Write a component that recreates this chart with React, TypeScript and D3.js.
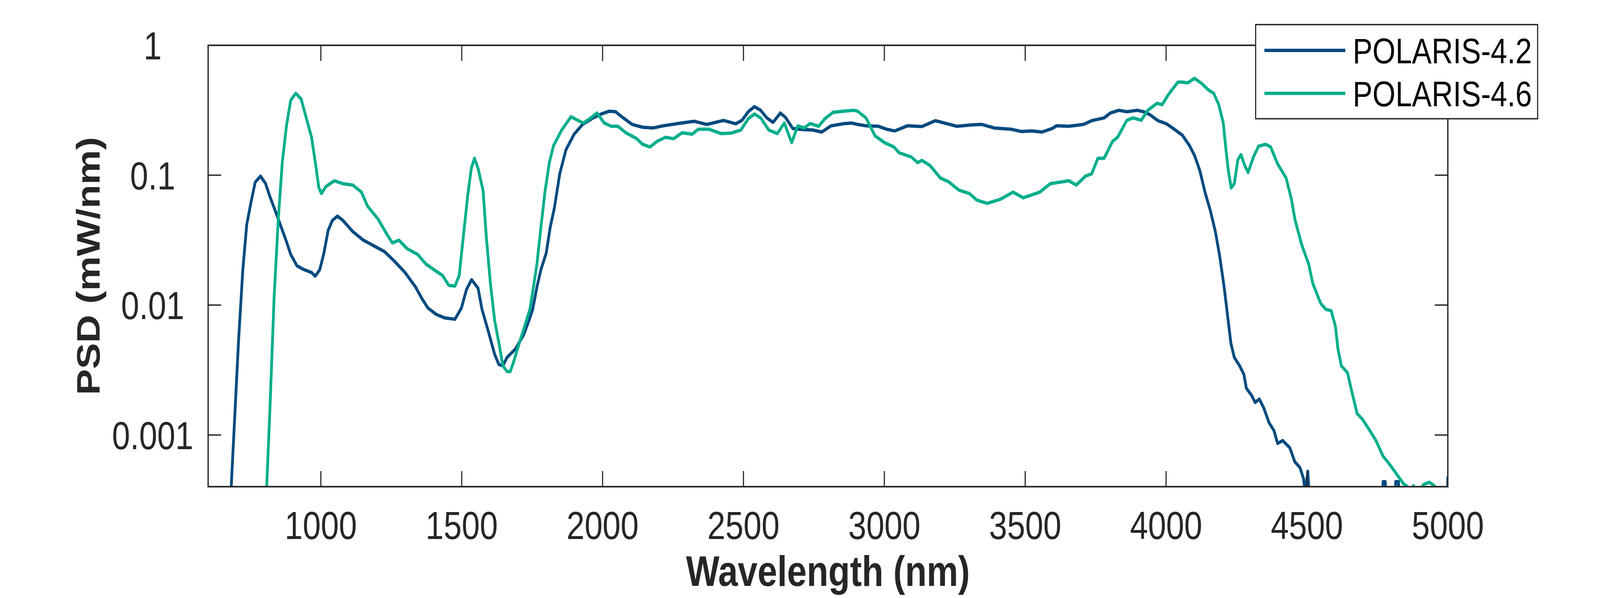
import React from 'react';
import * as d3 from 'd3';

// ---- data ----
const seriesNames = ['POLARIS-4.2', 'POLARIS-4.6'];
const seriesColors = ['#004a7f', '#00ae8b'];

const wavelength42 = [
  670, 682, 693, 708, 723, 737, 752, 767, 786, 804, 819, 849, 878, 893, 915, 937, 967, 980, 996,
  1011, 1026, 1041, 1059, 1078, 1114, 1151, 1188, 1225, 1262, 1299, 1336, 1358, 1380, 1410, 1439,
  1476, 1499, 1517, 1535, 1558, 1572, 1595, 1617, 1632, 1646, 1661, 1691, 1720, 1742, 1752, 1767,
  1781, 1800, 1814, 1829, 1848, 1870, 1899, 1929, 1966, 1995, 2024, 2046, 2068, 2105, 2142, 2179,
  2215, 2267, 2326, 2370, 2429, 2473, 2495, 2517, 2539, 2561, 2583, 2605, 2631, 2649, 2675, 2708,
  2745, 2778, 2811, 2855, 2885, 2905, 2935, 2979, 3008, 3037, 3082, 3133, 3181, 3214, 3258, 3310,
  3346, 3390, 3449, 3486, 3523, 3560, 3596, 3611, 3655, 3707, 3736, 3780, 3802, 3832, 3861, 3898,
  3920, 3942, 3971, 4001, 4023, 4058, 4083, 4101, 4120, 4138, 4157, 4175, 4190, 4206, 4218, 4230,
  4242, 4261, 4276, 4285, 4304, 4316, 4331, 4347, 4365, 4383, 4396, 4414, 4439, 4457, 4475, 4488,
  4494, 4503, 4509, 4520, 4765, 4770, 4778, 4784, 4810, 4815, 4825, 4831, 4996, 5000,
];
const psd42 = [
  0.0001, 0.000407, 0.0012, 0.00537, 0.0186, 0.0417, 0.0617, 0.0883, 0.0984, 0.0861, 0.0687, 0.046,
  0.0308, 0.0246, 0.0201, 0.0189, 0.0178, 0.0167, 0.0187,
  0.0252, 0.0377, 0.0449, 0.0484, 0.0449, 0.0367, 0.0316, 0.0286, 0.0259, 0.0217, 0.0178, 0.0138,
  0.0113, 0.0095, 0.00847, 0.00798,
  0.00778, 0.0095, 0.0132, 0.0157, 0.0135, 0.00927, 0.00621, 0.00417, 0.00349, 0.00341, 0.00396,
  0.0046, 0.00592, 0.00798, 0.0093, 0.0138,
  0.0187, 0.0252, 0.0396, 0.0562, 0.1026, 0.157, 0.207, 0.246, 0.276, 0.296, 0.311, 0.308, 0.282,
  0.246, 0.234, 0.231,
  0.24, 0.25, 0.26, 0.246, 0.264, 0.249, 0.265, 0.308, 0.337, 0.316, 0.276, 0.255, 0.301, 0.279,
  0.229, 0.225,
  0.223, 0.215, 0.24, 0.249, 0.252, 0.246, 0.24, 0.238, 0.226, 0.219, 0.24, 0.237, 0.263, 0.252,
  0.238, 0.244,
  0.246, 0.231, 0.226, 0.217, 0.219, 0.215, 0.229, 0.24, 0.238, 0.246, 0.263, 0.276, 0.301, 0.316,
  0.308, 0.316,
  0.308, 0.293, 0.263, 0.249, 0.231, 0.203, 0.169, 0.142, 0.108, 0.0741, 0.0535, 0.0367, 0.024,
  0.0138, 0.0084, 0.00509,
  0.00396, 0.00341, 0.00293, 0.00229, 0.00201, 0.00178, 0.00189, 0.00161, 0.00125, 0.00108,
  0.000861, 0.000906, 0.000798, 0.000621, 0.000562, 0.00046,
  0.000355, 0.000525, 0.000316, 0.0001, 0.0001, 0.000437, 0.000437, 0.0001, 0.0001, 0.000437,
  0.000437, 0.0001, 0.0001, 0.000468,
];

const wavelength46 = [
  800, 808, 819, 834, 849, 863, 878, 893, 911, 930, 945, 967, 982, 993, 1002, 1018, 1048, 1078,
  1114, 1144, 1166, 1203, 1232, 1254, 1277, 1306, 1343, 1373, 1402, 1432, 1454, 1476, 1491, 1506,
  1521, 1534, 1545, 1558, 1576, 1587, 1602, 1617, 1632, 1646, 1661, 1672, 1683, 1698, 1720, 1742,
  1754, 1767, 1781, 1796, 1811, 1826, 1855, 1888, 1914, 1932, 1958, 1980, 2006, 2031, 2054, 2083,
  2120, 2142, 2168, 2193, 2223, 2252, 2282, 2318, 2340, 2377, 2421, 2458, 2491, 2517, 2539, 2561,
  2590, 2620, 2645, 2671, 2693, 2715, 2737, 2767, 2789, 2818, 2855, 2892, 2905, 2935, 2949, 2967,
  3001, 3034, 3052, 3096, 3118, 3133, 3162, 3199, 3228, 3265, 3302, 3328, 3365, 3412, 3457, 3493,
  3552, 3589, 3655, 3681, 3714, 3736, 3758, 3780, 3810, 3828, 3861, 3883, 3912, 3935, 3968, 3986,
  4008, 4042, 4058, 4077, 4101, 4126, 4150, 4169, 4187, 4203, 4212, 4221, 4231, 4242, 4255, 4266,
  4279, 4291, 4310, 4328, 4353, 4371, 4396, 4426, 4445, 4457, 4481, 4506, 4521, 4549, 4567, 4586,
  4601, 4610, 4622, 4644, 4659, 4678, 4696, 4721, 4745, 4770, 4794, 4819, 4843, 4853, 4866, 4878,
  4890, 4915, 4935, 4952, 4960, 5000,
];
const psd46 = [
  0.0001, 0.000407, 0.00153, 0.0113, 0.046, 0.125, 0.24, 0.377, 0.427, 0.386, 0.293, 0.196, 0.119,
  0.0798, 0.0723, 0.0818, 0.0906, 0.0861,
  0.0839, 0.0741, 0.0577, 0.046, 0.0358, 0.0301, 0.0316, 0.0272, 0.0246, 0.0207, 0.0187, 0.0169,
  0.0142, 0.014, 0.0169, 0.0341,
  0.0687, 0.113, 0.135, 0.113, 0.0759, 0.0341, 0.0146, 0.00759, 0.00509, 0.00341, 0.00308, 0.00308,
  0.00358, 0.0046, 0.00653, 0.00927,
  0.0135, 0.0207, 0.0396, 0.0759, 0.125, 0.169, 0.223, 0.282, 0.263, 0.252, 0.276, 0.301, 0.252,
  0.238, 0.238, 0.212,
  0.192, 0.173, 0.165, 0.182, 0.196, 0.191, 0.212, 0.207, 0.226, 0.226, 0.209, 0.211, 0.223, 0.272,
  0.296, 0.276,
  0.223, 0.209, 0.252, 0.178, 0.24, 0.231, 0.25, 0.238, 0.272, 0.305, 0.311, 0.316, 0.311, 0.276,
  0.24, 0.201,
  0.178, 0.165, 0.149, 0.138, 0.125, 0.13, 0.119, 0.0951, 0.0891, 0.0767, 0.0723, 0.0644, 0.0607,
  0.0653, 0.0741, 0.067,
  0.0741, 0.0861, 0.0906, 0.0839, 0.0984, 0.1026, 0.135, 0.135, 0.182, 0.196, 0.265, 0.276, 0.265,
  0.316, 0.358, 0.349,
  0.417, 0.521, 0.521, 0.514, 0.557, 0.509, 0.454, 0.427, 0.349, 0.252, 0.161, 0.108, 0.0798,
  0.0861, 0.132, 0.144,
  0.119, 0.105, 0.138, 0.167, 0.173, 0.165, 0.122, 0.0951, 0.0653, 0.046, 0.0293, 0.0207, 0.0146,
  0.0103, 0.00927, 0.00906,
  0.00687, 0.0046, 0.00341, 0.00301, 0.00217, 0.00146, 0.00133, 0.0011, 0.000906, 0.000687,
  0.000592, 0.000497, 0.000421, 0.000407, 0.000355, 0.000407,
  0.000355, 0.000417, 0.000432, 0.000407, 0.000316, 0.0001,
];

const xDomain = [600, 5000];
const yDomain = [4e-4, 1];
const xTicks = [1000, 1500, 2000, 2500, 3000, 3500, 4000, 4500, 5000];
const yTicks = [0.001, 0.01, 0.1, 1];
const yTickLabels = ['0.001', '0.01', '0.1', '1'];
const xLabel = 'Wavelength (nm)';
const yLabel = 'PSD (mW/nm)';

export default function App() {
  const W = 4925;
  const H = 1531;
  const plot = { left: 640.7, right: 4456.6, top: 116, bottom: 1246 };
  const x = d3.scaleLinear().domain(xDomain).range([plot.left, plot.right]);
  const y = d3.scaleLog().domain(yDomain).range([plot.bottom, plot.top]);
  const line = d3
    .line<[number, number]>()
    .x((d) => x(d[0]))
    .y((d) => y(d[1]));

  const series = [
    { name: seriesNames[0], color: seriesColors[0], pts: wavelength42.map((w, i) => [w, psd42[i]] as [number, number]) },
    { name: seriesNames[1], color: seriesColors[1], pts: wavelength46.map((w, i) => [w, psd46[i]] as [number, number]) },
  ];

  const axisColor = '#262626';
  const tickLen = 40;
  const font = "'Liberation Sans', Arial, Helvetica, sans-serif";

  const legend = { x0: 3865, y0: 63, x1: 4733, y1: 304 };
  const legendRows = [129, 239];

  return (
    <div
      style={{
        position: 'fixed',
        left: 0,
        top: 0,
        width: '100vw',
        height: '100vh',
        overflow: 'hidden',
        background: '#fff',
      }}
    >
      <svg
        width="100%"
        height="100%"
        viewBox={`0 0 ${W} ${H}`}
        preserveAspectRatio="none"
        style={{ display: 'block' }}
      >
        <defs>
          <clipPath id="plotClip">
            <rect x={plot.left} y={plot.top} width={plot.right - plot.left} height={plot.bottom - plot.top} />
          </clipPath>
        </defs>
        <rect x={0} y={0} width={W} height={H} fill="#fff" />

        <g clipPath="url(#plotClip)">
          {series.map((s) => (
            <path
              key={s.name}
              d={line(s.pts) || ''}
              fill="none"
              stroke={s.color}
              strokeWidth={8.5}
              strokeLinejoin="round"
              strokeLinecap="round"
            />
          ))}
        </g>

        {/* ticks */}
        <g stroke={axisColor} strokeWidth={3.5}>
          {xTicks.map((t) => (
            <g key={'xt' + t}>
              <line x1={x(t)} x2={x(t)} y1={plot.bottom} y2={plot.bottom - tickLen} />
              <line x1={x(t)} x2={x(t)} y1={plot.top} y2={plot.top + tickLen} />
            </g>
          ))}
          {yTicks.map((t) => (
            <g key={'yt' + t}>
              <line x1={plot.left} x2={plot.left + tickLen} y1={y(t)} y2={y(t)} />
              <line x1={plot.right} x2={plot.right - tickLen} y1={y(t)} y2={y(t)} />
            </g>
          ))}
        </g>

        {/* axes box */}
        <rect
          x={plot.left}
          y={plot.top}
          width={plot.right - plot.left}
          height={plot.bottom - plot.top}
          fill="none"
          stroke={axisColor}
          strokeWidth={4}
        />

        {/* tick labels */}
        <g fill={axisColor} fontFamily={font} fontSize={100}>
          {xTicks.map((t) => (
            <text key={'xl' + t} x={x(t)} y={1380} textAnchor="middle">
              {String(t)}
            </text>
          ))}
          {yTicks.map((t, i) => (
            <text key={'yl' + t} x={470} y={y(t) + 36} textAnchor="middle">
              {yTickLabels[i]}
            </text>
          ))}
        </g>

        {/* axis labels */}
        <text
          x={(plot.left + plot.right) / 2}
          y={1500}
          textAnchor="middle"
          fontFamily={font}
          fontWeight="bold"
          fontSize={109}
          fill={axisColor}
        >
          {xLabel}
        </text>
        <text
          transform={`translate(307, ${(plot.top + plot.bottom) / 2}) rotate(-90)`}
          textAnchor="middle"
          fontFamily={font}
          fontWeight="bold"
          fontSize={100}
          fill={axisColor}
        >
          {yLabel}
        </text>

        {/* legend */}
        <rect
          x={legend.x0}
          y={legend.y0}
          width={legend.x1 - legend.x0}
          height={legend.y1 - legend.y0}
          fill="#fff"
          stroke={axisColor}
          strokeWidth={3.5}
        />
        {series.map((s, i) => (
          <g key={'lg' + s.name}>
            <line x1={3892} x2={4141} y1={legendRows[i]} y2={legendRows[i]} stroke={s.color} strokeWidth={8.5} />
            <text x={4164} y={legendRows[i] + 33} fontFamily={font} fontSize={91} fill="#000">
              {s.name}
            </text>
          </g>
        ))}
      </svg>
    </div>
  );
}
